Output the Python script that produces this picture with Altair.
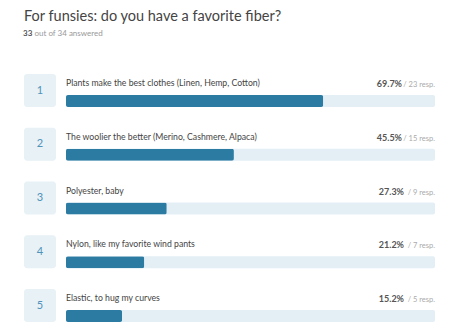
import altair as alt
import pandas as pd

title_text = ["For funsies: do you have a favorite fiber?"]
answered = [33]
total = [34]
ranks = [1, 2, 3, 4, 5]
labels = [
    "Plants make the best clothes (Linen, Hemp, Cotton)",
    "The woolier the better (Merino, Cashmere, Alpaca)",
    "Polyester, baby",
    "Nylon, like my favorite wind pants",
    "Elastic, to hug my curves",
]
pcts = [69.7, 45.5, 27.3, 21.2, 15.2]
resps = [23, 15, 9, 7, 5]

FONT = "Lato"
BAR = "#2b7ba3"
TRACK = "#e3eff5"
BOX = "#e7f1f6"

df = pd.DataFrame({"rank": ranks, "label": labels, "pct": pcts, "resp": resps})
df["pct_txt"] = [f"{p:.1f}%" for p in pcts]
df["resp_txt"] = [f"/ {r} resp." for r in resps]
df["rank_txt"] = [str(r) for r in ranks]

xs = alt.Scale(domain=[0, 100], range=[58, 427])


def band_y(r0, r1, pin):
    return alt.Y("rank:O", axis=None,
                 scale=alt.Scale(type="band", domain=ranks, range=[r0, r1], paddingInner=pin,
                                 paddingOuter=0))


def point_y(r0, r1):
    return alt.Y("rank:O", axis=None,
                 scale=alt.Scale(type="point", domain=ranks, range=[r0, r1], padding=0))


base = alt.Chart(df)

boxes = base.mark_bar(color=BOX, cornerRadius=3).encode(
    x=alt.value(16), x2=alt.value(48), y=band_y(66, 314, 0.386)
)
nums = base.mark_text(font=FONT, fontSize=11, color="#4f93bb", align="center", baseline="middle").encode(
    x=alt.value(32), y=point_y(82.5, 297.5), text="rank_txt:N"
)
track = base.mark_bar(color=TRACK, cornerRadius=2).encode(
    x=alt.value(58), x2=alt.value(427), y=band_y(87, 314, 0.7767)
)
bars = base.mark_bar(color=BAR, cornerRadius=2).encode(
    x=alt.X("pct:Q", scale=xs, axis=None), x2=alt.value(58), y=band_y(87, 314, 0.7767)
)
lab = base.mark_text(font=FONT, fontSize=8.7, color="#444444", align="left", baseline="alphabetic").encode(
    x=alt.value(58), y=point_y(78, 293), text="label:N"
)
pct_style = dict(font=FONT, fontSize=9, fontWeight="bold", color="#555555", align="right",
                 baseline="alphabetic")
pct_a = base.mark_text(**pct_style).encode(
    x=alt.value(394), y=point_y(79, 294), text="pct_txt:N"
).transform_filter("datum.resp >= 10")
pct_b = base.mark_text(**pct_style).encode(
    x=alt.value(396), y=point_y(79, 294), text="pct_txt:N"
).transform_filter("datum.resp < 10")
resp_t = base.mark_text(font=FONT, fontSize=7.5, color="#aaaaaa", align="right", baseline="alphabetic").encode(
    x=alt.value(427), y=point_y(79, 294), text="resp_txt:N"
)

tdf = pd.DataFrame({"t": title_text})
title = alt.Chart(tdf).mark_text(font=FONT, fontSize=14.5, color="#444444", align="left",
                                 baseline="alphabetic").encode(
    x=alt.value(16), y=alt.value(12.5), text="t:N"
)
sdf = pd.DataFrame({"a": [str(a) for a in answered],
                    "rest": [f"out of {t} answered" for t in total]})
sub1 = alt.Chart(sdf).mark_text(font=FONT, fontSize=8, fontWeight="bold", color="#555555", align="left",
                                baseline="alphabetic").encode(
    x=alt.value(15), y=alt.value(28), text="a:N"
)
sub2 = alt.Chart(sdf).mark_text(font=FONT, fontSize=8, color="#999999", align="left",
                                baseline="alphabetic").encode(
    x=alt.value(26.5), y=alt.value(28), text="rest:N"
)

main = alt.layer(boxes, nums, track, bars, lab, pct_a, pct_b, resp_t).resolve_scale(y="independent")

chart = alt.layer(main, title, sub1, sub2).properties(
    width=438, height=317, padding=0, autosize=alt.AutoSizeParams(type="none"), background="white"
).configure_view(stroke=None)

chart.save("out.html", embed_options={"renderer": "svg", "actions": False})
